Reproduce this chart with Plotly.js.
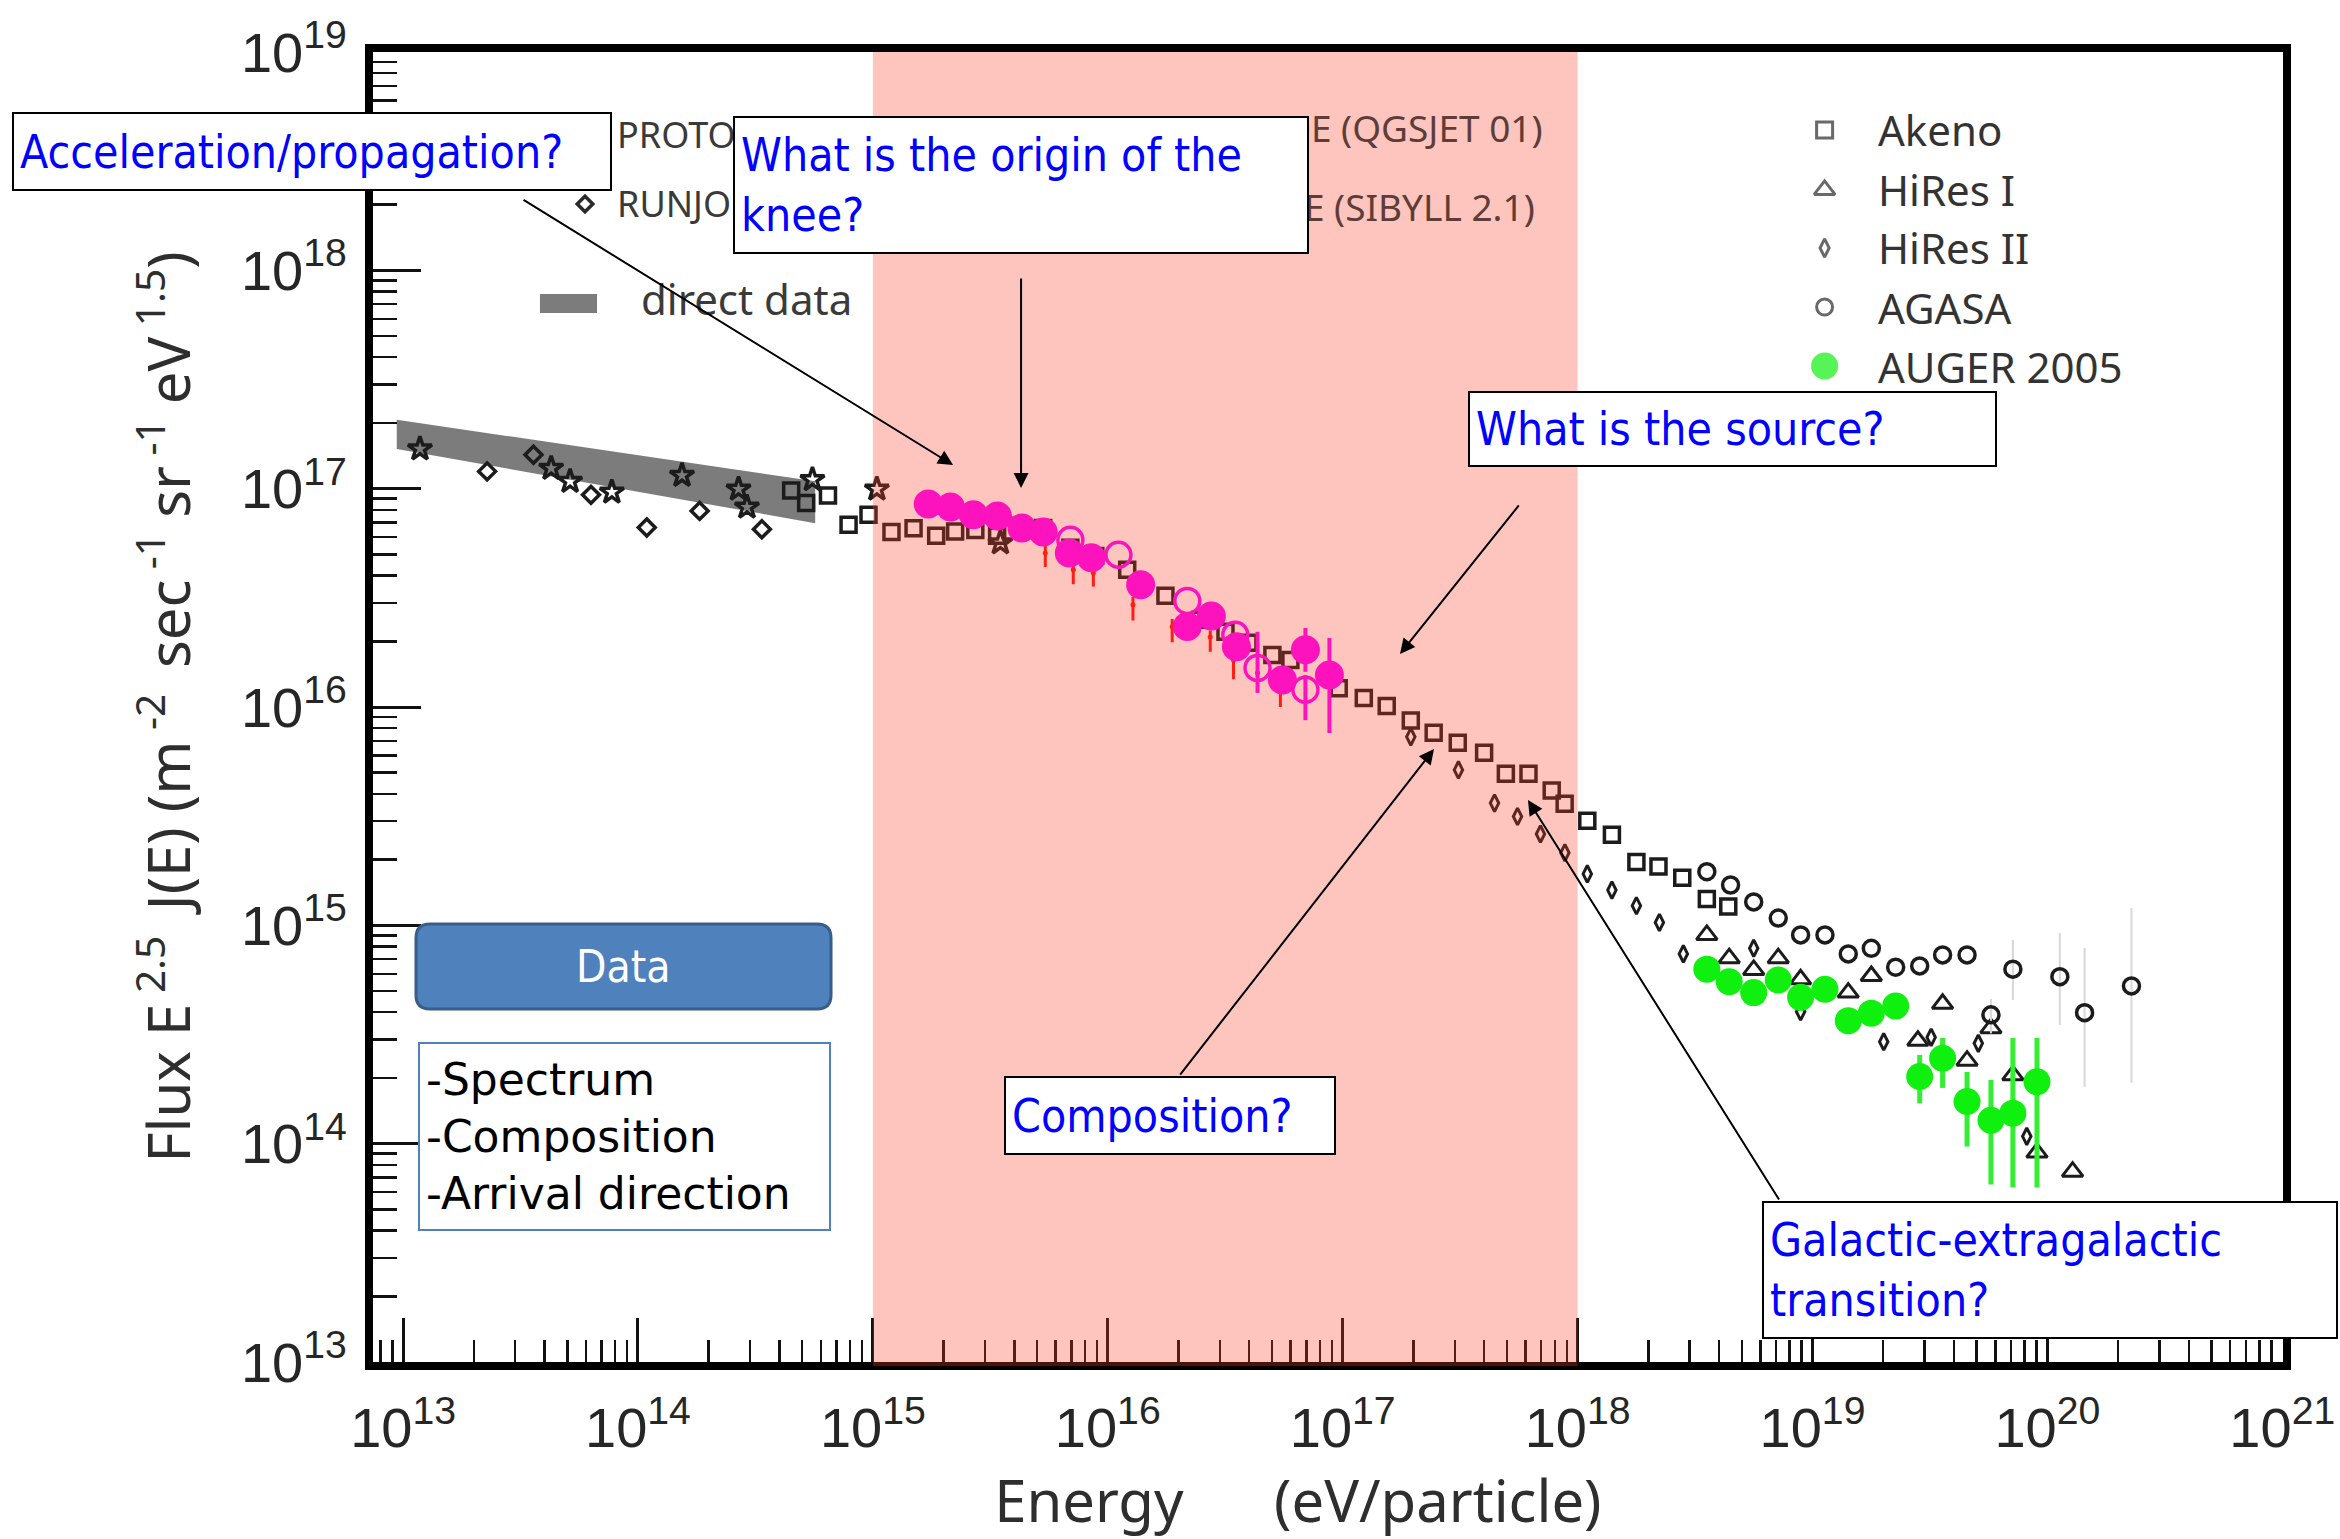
<!DOCTYPE html>
<html>
<head>
<meta charset="utf-8">
<script src="https://cdn.plot.ly/plotly-3.0.1.min.js"></script>
<style>
  html, body { margin: 0; padding: 0; background: #ffffff; }
  #chart { width: 2340px; height: 1539px; }
</style>
</head>
<body>
<div id="chart"></div>
<script>
// Cosmic-ray all-particle spectrum, flux scaled by E^2.5 (m^-2 sec^-1 sr^-1 eV^1.5)

// Direct measurements band (corners of the shaded region)
const directBandE = [9.4e12, 5.68e14, 5.68e14, 9.4e12];
const directBandF = [2.07e17, 1.08e17, 6.95e16, 1.52e17];

// PROTON (stars)
const protonE = [1.18e13, 4.27e13, 5.14e13, 7.74e13, 1.54e14, 2.68e14, 2.91e14, 5.53e14, 1.04e15, 3.49e15];
const protonF = [1.52e17, 1.24e17, 1.08e17, 9.64e16, 1.15e17, 9.95e16, 8.23e16, 1.10e17, 9.95e16, 5.65e16];

// RUNJOB (diamonds)
const runjobE = [2.28e13, 3.59e13, 6.31e13, 1.09e14, 1.83e14, 3.37e14];
const runjobF = [1.20e17, 1.43e17, 9.37e16, 6.64e16, 7.91e16, 6.52e16];

// Akeno (open squares)
const akenoE = [4.49e14, 5.20e14, 6.44e14, 7.88e14, 9.58e14, 1.20e15, 1.49e15, 1.86e15, 2.24e15, 2.73e15,
                3.38e15, 4.24e15, 5.31e15, 6.93e15, 8.85e15, 1.21e16, 1.76e16, 2.48e16, 3.17e16, 3.97e16,
                5.02e16, 5.99e16, 9.62e16, 1.23e17, 1.54e17, 1.95e17, 2.44e17, 3.09e17, 4.00e17, 4.95e17,
                6.18e17, 7.76e17, 8.81e17, 1.10e18, 1.40e18, 1.78e18, 2.21e18, 2.79e18, 3.55e18, 4.38e18];
const akenoF = [9.80e16, 8.59e16, 9.30e16, 6.83e16, 7.59e16, 6.34e16, 6.59e16, 6.08e16, 6.36e16, 6.47e16,
                6.08e16, 6.76e16, 6.61e16, 5.36e16, 4.92e16, 4.25e16, 3.23e16, 2.51e16, 2.21e16, 1.97e16,
                1.73e16, 1.64e16, 1.22e16, 1.10e16, 1.01e16, 8.68e15, 7.63e15, 6.85e15, 6.18e15, 4.94e15,
                4.94e15, 4.15e15, 3.60e15, 3.01e15, 2.60e15, 1.95e15, 1.86e15, 1.65e15, 1.32e15, 1.22e15];

// KASCADE unfolded spectra and their error bars
const kascadeRedE = [5.42e15, 7.13e15, 8.68e15, 1.28e16, 1.88e16, 2.73e16, 3.43e16, 4.34e16, 5.43e16];
const kascadeRedF = [5.08e16, 4.25e16, 4.11e16, 2.94e16, 2.33e16, 2.09e16, 1.64e16, 1.43e16, 1.20e16];
const kascadeRedErrUp = [0.4e16, 0.35e16, 0.3e16, 0.25e16, 0.2e16, 0.15e16, 0.15e16, 0.12e16, 0.1e16];
const kascadeRedErrDown = [0.7e16, 0.6e16, 0.55e16, 0.45e16, 0.35e16, 0.3e16, 0.3e16, 0.25e16, 0.2e16];

const kascadeQgsE = [1.72e15, 2.14e15, 2.68e15, 3.39e15, 4.31e15, 5.31e15, 6.86e15, 8.51e15, 1.38e16, 2.18e16,
                     2.76e16, 3.53e16, 5.54e16, 6.94e16, 8.78e16];
const kascadeQgsF = [8.51e16, 8.25e16, 7.59e16, 7.50e16, 6.61e16, 6.34e16, 5.08e16, 4.82e16, 3.63e16, 2.34e16,
                     2.61e16, 1.89e16, 1.33e16, 1.83e16, 1.40e16];
const kascadeQgsErrUp = [0, 0, 0, 0, 0, 0, 0, 0, 0, 0, 0, 0, 0, 0.47e16, 0.67e16];
const kascadeQgsErrDown = [0, 0, 0, 0, 0, 0, 0, 0, 0, 0, 0, 0, 0, 0.38e16, 0.64e16];

const kascadeSibE = [6.93e15, 1.11e16, 2.18e16, 3.49e16, 4.34e16, 6.94e16];
const kascadeSibF = [5.83e16, 4.98e16, 3.06e16, 2.14e16, 1.51e16, 1.20e16];
const kascadeSibErrUp = [0, 0, 0, 0, 0.70e16, 0.20e16];
const kascadeSibErrDown = [0, 0, 0, 0, 0.35e16, 0.33e16];

// HiRes II (small diamonds)
const hires2E = [1.95e17, 3.11e17, 4.43e17, 5.55e17, 6.95e17, 8.83e17, 1.10e18, 1.40e18, 1.78e18, 2.23e18,
                 2.82e18, 5.62e18, 8.90e18, 2.01e19, 3.20e19, 5.08e19, 8.17e19];
const hires2F = [7.30e15, 5.15e15, 3.63e15, 3.15e15, 2.62e15, 2.15e15, 1.72e15, 1.45e15, 1.23e15, 1.03e15,
                 7.40e14, 7.85e14, 4.02e14, 2.93e14, 3.07e14, 2.88e14, 1.08e14];

// HiRes I (triangles)
const hires1E = [3.55e18, 4.42e18, 5.62e18, 7.15e18, 8.90e18, 1.42e19, 1.78e19, 2.81e19, 3.58e19, 4.55e19,
                 5.75e19, 7.13e19, 9.03e19, 1.28e20];
const hires1F = [9.04e14, 7.07e14, 6.25e14, 7.07e14, 5.66e14, 4.92e14, 5.86e14, 2.96e14, 4.37e14, 2.40e14,
                 3.38e14, 2.06e14, 9.10e13, 7.44e13];

// AGASA (open circles)
const agasaE = [3.55e18, 4.48e18, 5.62e18, 7.15e18, 8.90e18, 1.13e19, 1.42e19, 1.78e19, 2.26e19, 2.86e19,
                3.58e19, 4.55e19, 5.75e19, 7.13e19, 1.13e20, 1.44e20, 2.28e20];
const agasaF = [1.76e15, 1.53e15, 1.28e15, 1.08e15, 9.04e14, 9.04e14, 7.40e14, 7.85e14, 6.43e14, 6.52e14,
                7.32e14, 7.32e14, 3.89e14, 6.30e14, 5.82e14, 3.98e14, 5.28e14];
const agasaErrUp = [0, 0, 0, 0, 0, 0, 0, 0, 0, 0, 0, 0, 0.71e14, 2.27e14, 3.41e14, 3.90e14, 6.72e14];
const agasaErrDown = [0, 0, 0, 0, 0, 0, 0, 0, 0, 0, 0, 0, 0.69e14, 1.75e14, 2.32e14, 2.16e14, 3.38e14];

// AUGER 2005 (filled green circles)
const augerE = [3.55e18, 4.42e18, 5.62e18, 7.15e18, 8.90e18, 1.13e19, 1.42e19, 1.78e19, 2.26e19, 2.86e19,
                3.58e19, 4.55e19, 5.75e19, 7.13e19, 9.03e19];
const augerF = [6.30e14, 5.52e14, 4.92e14, 5.62e14, 4.68e14, 5.10e14, 3.66e14, 3.96e14, 4.27e14, 2.03e14,
                2.46e14, 1.56e14, 1.28e14, 1.38e14, 1.92e14];
const augerErrUp = [0, 0, 0, 0, 0, 0, 0, 0, 0, 0.52e14, 0.59e14, 0.57e14, 0.68e14, 1.67e14, 1.13e14];
const augerErrDown = [0, 0, 0, 0, 0, 0, 0, 0, 0, 0.50e14, 0.66e14, 0.59e14, 0.63e14, 0.75e14, 1.29e14];

// Decade ticks and their labels
const energyTicks = [1e13, 1e14, 1e15, 1e16, 1e17, 1e18, 1e19, 1e20, 1e21];
const energyTickText = ['10<sup>13</sup>', '10<sup>14</sup>', '10<sup>15</sup>', '10<sup>16</sup>',
                        '10<sup>17</sup>', '10<sup>18</sup>', '10<sup>19</sup>', '10<sup>20</sup>',
                        '10<sup>21</sup>'];
const fluxTicks = [1e13, 1e14, 1e15, 1e16, 1e17, 1e18, 1e19];
const fluxTickText = ['10<sup>13</sup>', '10<sup>14</sup>', '10<sup>15</sup>', '10<sup>16</sup>',
                      '10<sup>17</sup>', '10<sup>18</sup>', '10<sup>19</sup>'];

// Legend labels
const legendLabels = ['Akeno', 'HiRes I', 'HiRes II', 'AGASA', 'AUGER 2005'];
const directLabels = ['PROTON', 'RUNJOB', 'direct data'];
const kascadeLabels = ['KASCADE (QGSJET 01)', 'KASCADE (SIBYLL 2.1)'];

// Callout texts
const calloutAccel = 'Acceleration/propagation?';
const calloutKnee = 'What is the origin of the<br>knee?';
const calloutSource = 'What is the source?';
const calloutComposition = 'Composition?';
const calloutTransition = 'Galactic-extragalactic<br>transition?';
const dataHeader = 'Data';
const dataItems = ['-Spectrum', '-Composition', '-Arrival direction'];

// ---------------------------------------------------------------------------
const INK = '#1c1c1c';
const MAGENTA = '#ff00ff';
const GREEN = '#0ff00f';
const CALLOUT_FONT = {family: '"DejaVu Sans Condensed", "DejaVu Sans", sans-serif', size: 46, color: '#0000ff'};
const LABEL_FONT = '"Noto Sans", "Open Sans", sans-serif';

const traces = [
  {type: 'scatter', mode: 'lines', x: directBandE, y: directBandF, fill: 'toself',
   fillcolor: '#7c7c7c', line: {width: 0}, hoverinfo: 'skip', name: directLabels[2]},
  {type: 'scatter', mode: 'markers', x: runjobE, y: runjobF, name: directLabels[1],
   marker: {symbol: 'diamond-open', size: 13, color: INK, line: {width: 3.5}}},
  {type: 'scatter', mode: 'markers', x: protonE, y: protonF, name: directLabels[0],
   marker: {symbol: 'star-open', size: 18, color: INK, line: {width: 3.5}}},
  {type: 'scatter', mode: 'markers', x: akenoE, y: akenoF, name: legendLabels[0],
   marker: {symbol: 'square-open', size: 15, color: INK, line: {width: 3.5}}},
  {type: 'scatter', mode: 'markers', x: kascadeRedE, y: kascadeRedF, name: 'KASCADE',
   marker: {symbol: 'circle', size: 5, color: '#ff1010'},
   error_y: {type: 'data', array: kascadeRedErrUp, arrayminus: kascadeRedErrDown, color: '#ff1010', thickness: 3, width: 0}},
  {type: 'scatter', mode: 'markers', x: kascadeQgsE, y: kascadeQgsF, name: kascadeLabels[0],
   marker: {symbol: 'circle', size: 29, color: MAGENTA, line: {width: 0}},
   error_y: {type: 'data', array: kascadeQgsErrUp, arrayminus: kascadeQgsErrDown, color: MAGENTA, thickness: 4, width: 0}},
  {type: 'scatter', mode: 'markers', x: kascadeSibE, y: kascadeSibF, name: kascadeLabels[1],
   marker: {symbol: 'circle-open', size: 25, color: MAGENTA, line: {width: 3.5}},
   error_y: {type: 'data', array: kascadeSibErrUp, arrayminus: kascadeSibErrDown, color: MAGENTA, thickness: 4, width: 0}},
  {type: 'scatter', mode: 'markers', x: hires2E, y: hires2F, name: legendLabels[2],
   marker: {symbol: 'diamond-tall-open', size: 12, color: INK, line: {width: 3}}},
  {type: 'scatter', mode: 'markers', x: hires1E, y: hires1F, name: legendLabels[1],
   marker: {symbol: 'triangle-up-open', size: 18, color: INK, line: {width: 3}}},
  {type: 'scatter', mode: 'markers', x: agasaE, y: agasaF, name: legendLabels[3],
   marker: {symbol: 'circle-open', size: 16, color: INK, line: {width: 3.5}},
   error_y: {type: 'data', array: agasaErrUp, arrayminus: agasaErrDown, color: '#d8d8d8', thickness: 2, width: 0}},
  {type: 'scatter', mode: 'markers', x: augerE, y: augerF, name: legendLabels[4],
   marker: {symbol: 'circle', size: 27, color: GREEN, line: {width: 0}},
   error_y: {type: 'data', array: augerErrUp, arrayminus: augerErrDown, color: '#33ee33', thickness: 5, width: 0}},
  // legend swatches, drawn on a unit overlay frame
  {type: 'scatter', mode: 'markers', xaxis: 'x2', yaxis: 'y2', hoverinfo: 'skip',
   x: [0.760, 0.760, 0.760, 0.760, 0.760], y: [0.9405, 0.8947, 0.8504, 0.8053, 0.7603],
   marker: {symbol: ['square-open', 'triangle-up-open', 'diamond-tall-open', 'circle-open', 'circle'],
            size: [16, 18, 13, 16, 27], color: ['#2a2a2a', '#2a2a2a', '#2a2a2a', '#2a2a2a', GREEN],
            line: {width: [3, 3, 3, 3, 0]}}},
  {type: 'scatter', mode: 'markers', xaxis: 'x2', yaxis: 'y2', hoverinfo: 'skip',
   x: [0.111], y: [0.884],
   marker: {symbol: 'diamond-open', size: 12, color: '#2a2a2a', line: {width: 3.5}}}
];

// rounded "Data" header box, in paper units
const bx0 = 0.0225, bx1 = 0.2398, by0 = 0.2695, by1 = 0.3344, rx = 0.0073, ry = 0.0107;
const dataBoxPath = `M ${bx0 + rx},${by0} L ${bx1 - rx},${by0} Q ${bx1},${by0} ${bx1},${by0 + ry} ` +
  `L ${bx1},${by1 - ry} Q ${bx1},${by1} ${bx1 - rx},${by1} L ${bx0 + rx},${by1} ` +
  `Q ${bx0},${by1} ${bx0},${by1 - ry} L ${bx0},${by0 + ry} Q ${bx0},${by0} ${bx0 + rx},${by0} Z`;

const tickFont = {family: '"Liberation Sans Narrow", "Liberation Sans", Arial, sans-serif', size: 56, color: '#262626'};

function box(text, x, y, w, h, extra) {
  return Object.assign({
    xref: 'paper', yref: 'paper', x: x, y: y, xanchor: 'left', yanchor: 'top',
    text: text, showarrow: false, align: 'left', valign: 'middle',
    width: w, height: h, bgcolor: '#ffffff', bordercolor: '#000000',
    borderwidth: 2, borderpad: 6, font: CALLOUT_FONT
  }, extra || {});
}
function arrow(x, y, ax, ay) {
  return {xref: 'paper', yref: 'paper', x: x, y: y, ax: ax, ay: ay, axref: 'pixel', ayref: 'pixel',
          text: '', showarrow: true, arrowhead: 2, arrowsize: 1.5, arrowwidth: 2,
          arrowcolor: '#000000', standoff: 0, startstandoff: 0};
}
function label(text, x, y, anchor, size, color) {
  return {xref: 'paper', yref: 'paper', x: x, y: y, xanchor: anchor, yanchor: 'middle',
          text: text, showarrow: false, font: {family: LABEL_FONT, size: size, color: color}};
}

const legendRows = [0.9405, 0.8947, 0.8504, 0.8053, 0.7603];

const annotations = [
  label(directLabels[0], 0.1267, 0.9374, 'left', 36, '#3a3a3a'),
  label(directLabels[1], 0.1267, 0.884, 'left', 36, '#3a3a3a'),
  label(directLabels[2], 0.1393, 0.8122, 'left', 42, '#3a3a3a'),
  label(kascadeLabels[0], 0.6136, 0.942, 'right', 37, '#5e3d39'),
  label(kascadeLabels[1], 0.6094, 0.8817, 'right', 37, '#5e3d39'),
  ...legendLabels.map((t, i) => label(t, 0.7869, legendRows[i], 'left', 42, '#333333')),
  box(calloutAccel, -0.189, 0.9542, 584, 63),
  box(calloutKnee, 0.1885, 0.9511, 560, 122),
  box(calloutSource, 0.5733, 0.7412, 513, 60),
  box(calloutComposition, 0.3304, 0.2183, 316, 63),
  box(calloutTransition, 0.7272, 0.1229, 560, 122),
  {xref: 'paper', yref: 'paper', x: (bx0 + bx1) / 2, y: (by0 + by1) / 2, xanchor: 'center', yanchor: 'middle',
   text: dataHeader, showarrow: false,
   font: {family: CALLOUT_FONT.family, size: 44, color: '#ffffff'}},
  box(dataItems.join('<br>'), 0.0236, 0.2443, 397, 173,
      {bordercolor: '#4f81bd', font: {family: '"DejaVu Sans", sans-serif', size: 44, color: '#000000'}}),
  arrow(0.3037, 0.6847, -431, -266),
  arrow(0.3393, 0.6672, 0, -211),
  arrow(0.5377, 0.5405, 120, -150),
  arrow(0.5555, 0.4679, -255, 327),
  arrow(0.6047, 0.4290, 252, 401)
];

const axisCommon = {
  type: 'log', showline: true, linecolor: '#000000', linewidth: 8, mirror: true,
  ticks: 'inside', tickwidth: 3, tickcolor: '#111111', tickmode: 'array',
  showgrid: false, zeroline: false, tickfont: tickFont,
  minor: {ticks: 'inside', tickmode: 'linear', dtick: 'D1', tickwidth: 2.5, tickcolor: '#111111', showgrid: false}
};

const layout = {
  width: 2340, height: 1539,
  margin: {l: 373, r: 57, t: 52, b: 177, pad: 0},
  paper_bgcolor: '#ffffff', plot_bgcolor: '#ffffff',
  showlegend: false,
  xaxis: Object.assign({}, axisCommon, {
    range: [12.872, 21.003], ticklen: 44, ticklabelstandoff: 10,
    tickvals: energyTicks, ticktext: energyTickText,
    minor: Object.assign({}, axisCommon.minor, {ticklen: 22}),
    title: {text: 'Energy&nbsp;&nbsp;&nbsp;&nbsp;&nbsp;&nbsp;(eV/particle)&nbsp;&nbsp;&nbsp;&nbsp;', standoff: 28,
            font: {family: LABEL_FONT, size: 58, color: '#2e2e2e'}}
  }),
  yaxis: Object.assign({}, axisCommon, {
    range: [13, 19], ticklen: 48, ticklabelstandoff: 7,
    tickvals: fluxTicks, ticktext: fluxTickText,
    minor: Object.assign({}, axisCommon.minor, {ticklen: 24}),
    title: {text: 'Flux E<sup> 2.5 </sup> J(E) (m<sup> -2 </sup> sec<sup> -1</sup> sr<sup> -1</sup> eV<sup> 1.5</sup>)',
            standoff: 35, font: {family: LABEL_FONT, size: 58, color: '#2e2e2e'}}
  }),
  xaxis2: {overlaying: 'x', anchor: 'y2', range: [0, 1], visible: false, fixedrange: true},
  yaxis2: {overlaying: 'y', anchor: 'x2', range: [0, 1], visible: false, fixedrange: true},
  shapes: [
    // knee-to-ankle energy window, translucent so marks beneath take its tint
    {type: 'rect', xref: 'x', yref: 'paper', x0: 1e15, x1: 1e18, y0: -0.003, y1: 1,
     fillcolor: 'rgb(248,62,38)', opacity: 0.3, line: {width: 0}, layer: 'above'},
    // swatch for the direct-data band
    {type: 'rect', xref: 'paper', yref: 'paper', x0: 0.0874, x1: 0.1173, y0: 0.8008, y1: 0.8153,
     fillcolor: '#7c7c7c', line: {width: 0}, layer: 'above'},
    {type: 'path', xref: 'paper', yref: 'paper', path: dataBoxPath,
     fillcolor: '#4f81bd', line: {color: '#385d8a', width: 3}, layer: 'above'}
  ],
  annotations: annotations
};

Plotly.newPlot('chart', traces, layout, {staticPlot: true, displayModeBar: false});
</script>
</body>
</html>
